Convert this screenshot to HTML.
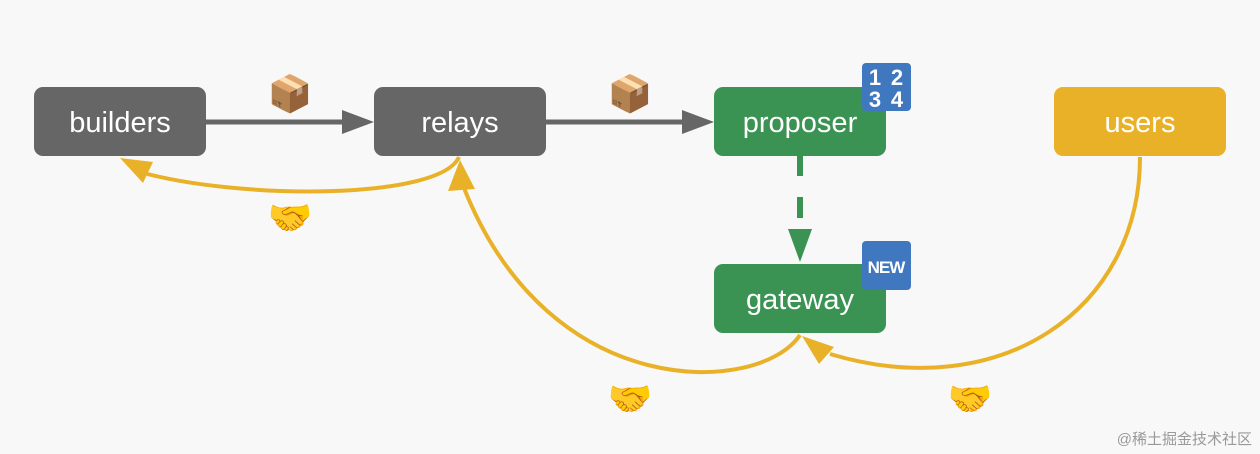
<!DOCTYPE html>
<html><head><meta charset="utf-8"><style>
html,body{margin:0;padding:0;background:#f8f8f8;}
svg{display:block}
text{font-family:"Liberation Sans","Noto Sans CJK SC",sans-serif}
</style></head><body>
<svg width="1260" height="454" viewBox="0 0 1260 454">
<rect width="1260" height="454" fill="#f8f8f8"/>
<line x1="206" y1="122" x2="345" y2="122" stroke="#666" stroke-width="5"/>
<polygon points="374,122 342,110 342,134" fill="#666"/>
<line x1="546" y1="122" x2="685" y2="122" stroke="#666" stroke-width="5"/>
<polygon points="714,122 682,110 682,134" fill="#666"/>
<line x1="800" y1="155" x2="800" y2="220" stroke="#3a9353" stroke-width="6" stroke-dasharray="21,21"/>
<polygon points="800,262 788,229 812,229" fill="#3a9353"/>
<g fill="none" stroke="#e9b128" stroke-width="4">
<path d="M459,157 C440,200 240,200 140,172"/>
<path d="M800,335 C760,395 550,405 464,188"/>
<path d="M1140,157 C1140,310 1000,405 830,354"/>
</g>
<polygon points="120,158 153,162 143,183" fill="#e9b128"/>
<polygon points="460,160 448,191 475,189" fill="#e9b128"/>
<polygon points="802,336 819,364 834,347" fill="#e9b128"/>
<rect x="34" y="87" width="172" height="69" rx="9" fill="#666"/>
<rect x="374" y="87" width="172" height="69" rx="9" fill="#666"/>
<rect x="714" y="87" width="172" height="69" rx="9" fill="#3a9353"/>
<rect x="714" y="264" width="172" height="69" rx="9" fill="#3a9353"/>
<rect x="1054" y="87" width="172" height="69" rx="9" fill="#e9b128"/>
<g fill="#fff" font-size="29" text-anchor="middle">
<text x="120" y="132">builders</text>
<text x="460" y="132">relays</text>
<text x="800" y="132">proposer</text>
<text x="800" y="309">gateway</text>
<text x="1140" y="132">users</text>
</g>
<rect x="862" y="63" width="49" height="48" rx="4" fill="#4078c0"/>
<g fill="#fff" font-size="22" font-weight="bold" text-anchor="middle">
<text x="875" y="85">1</text><text x="897" y="85">2</text>
<text x="875" y="107">3</text><text x="897" y="107">4</text>
</g>
<rect x="862" y="241" width="49" height="49" rx="4" fill="#4078c0"/>
<text x="886" y="273" fill="#fff" font-size="17" font-weight="bold" text-anchor="middle" letter-spacing="-1">NEW</text>
<g font-size="36" text-anchor="middle">
<text x="290" y="106">📦</text>
<text x="630" y="106">📦</text>
<text x="290" y="230">🤝</text>
<text x="630" y="411">🤝</text>
<text x="970" y="411">🤝</text>
</g>
<text x="1252" y="444" fill="#999" font-size="15" text-anchor="end">@稀土掘金技术社区</text>
</svg>
</body></html>
